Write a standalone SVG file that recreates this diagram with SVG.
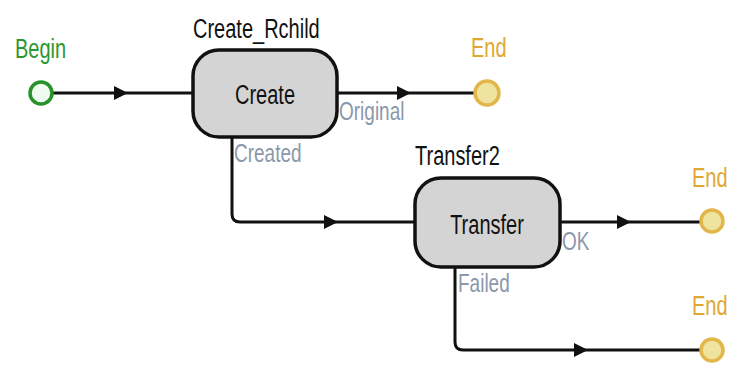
<svg xmlns="http://www.w3.org/2000/svg" width="729" height="371" viewBox="0 0 729 371">
<style>
text{font-family:"Liberation Sans",Arial,sans-serif}
.node rect{fill:#d4d4d4;stroke:#111;stroke-width:3.5}
.title{font-size:20px;fill:#111}
.inner{font-size:20px;fill:#111;text-anchor:middle}
.port{font-size:19px;fill:#8b97aa}
.conn{fill:none;stroke:#111;stroke-width:3;stroke-linejoin:round}
.arr{fill:#111}
.endc{fill:#efe3a0;stroke:#e2b64a;stroke-width:3.5}
.endt{font-size:20px;fill:#e0a830}
</style>
<g id="connectors">
<path class="conn" d="M52,93 H193"/>
<path class="arr" d="M114,86 L128,93 L114,100 z"/>
<path class="conn" d="M337,93 H475"/>
<path class="arr" d="M397,86 L411,93 L397,100 z"/>
<path class="conn" d="M232,137 V214 Q232,222 240,222 H415"/>
<path class="arr" d="M324,215 L338,222 L324,229 z"/>
<path class="conn" d="M560,222 H700"/>
<path class="arr" d="M617,215 L631,222 L617,229 z"/>
<path class="conn" d="M455,267 V342 Q455,350 463,350 H700"/>
<path class="arr" d="M574,343 L588,350 L574,357 z"/>
</g>
<g id="begin">
<circle cx="41" cy="93" r="11" fill="#effbef" stroke="#27922a" stroke-width="3.5"/>
<text transform="translate(15,58) scale(1,1.4)" font-size="20" fill="#2c9630">Begin</text>
</g>
<g id="create" class="node">
<text class="title" transform="translate(193,38) scale(1,1.4)">Create_Rchild</text>
<rect x="193" y="50" width="144" height="87" rx="26"/>
<text class="inner" transform="translate(265,104) scale(1,1.4)">Create</text>
<text class="port" transform="translate(339,120) scale(1,1.35)">Original</text>
<text class="port" transform="translate(234,162) scale(1,1.35)">Created</text>
</g>
<g id="end1">
<circle class="endc" cx="487" cy="93" r="12"/>
<text class="endt" transform="translate(471,57) scale(1,1.4)">End</text>
</g>
<g id="transfer" class="node">
<text class="title" transform="translate(415,165) scale(1,1.4)">Transfer2</text>
<rect x="415" y="178" width="145" height="89" rx="26"/>
<text class="inner" transform="translate(487,234) scale(1,1.4)">Transfer</text>
<text class="port" transform="translate(562,250) scale(1,1.35)">OK</text>
<text class="port" transform="translate(458,292) scale(1,1.35)">Failed</text>
</g>
<g id="end2">
<circle class="endc" cx="712" cy="221" r="11"/>
<text class="endt" transform="translate(692,187) scale(1,1.4)">End</text>
</g>
<g id="end3">
<circle class="endc" cx="712" cy="350" r="11"/>
<text class="endt" transform="translate(692,315) scale(1,1.4)">End</text>
</g>
</svg>
